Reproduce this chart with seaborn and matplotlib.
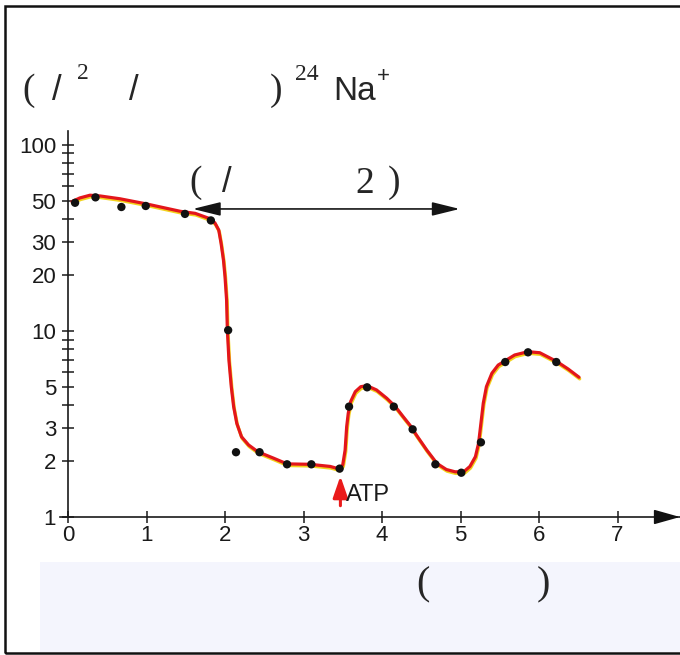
import matplotlib
matplotlib.use('Agg')
import matplotlib.pyplot as plt
import matplotlib.transforms as mtransforms
from matplotlib.patches import Rectangle, ArrowStyle
import seaborn as sns
import pandas as pd

# measured points (time in hours, 24Na+ efflux, log scale)
time_pts = [0.09, 0.35, 0.68, 0.99, 1.49, 1.82, 2.04, 2.14, 2.44, 2.79, 3.10,
            3.46, 3.58, 3.81, 4.15, 4.39, 4.68, 5.01, 5.26, 5.57, 5.86, 6.22]
flux_pts = [48.9, 52.3, 46.4, 47.0, 42.6, 39.3, 10.1, 2.23, 2.23, 1.92, 1.92,
            1.82, 3.92, 4.98, 3.92, 2.96, 1.92, 1.73, 2.52, 6.81, 7.68, 6.81]

# hand-drawn trend curve
curve_t = [0.05, 0.15, 0.28, 0.41, 0.66, 1.00, 1.43, 1.62, 1.79, 1.87, 1.92,
           1.95, 1.98, 2.00, 2.02, 2.03, 2.05, 2.08, 2.11, 2.15, 2.21, 2.30,
           2.42, 2.62, 2.79, 3.08, 3.34, 3.46, 3.50, 3.53, 3.55, 3.57, 3.60,
           3.66, 3.73, 3.81, 3.93, 4.06, 4.17, 4.27, 4.36, 4.44, 4.57, 4.70,
           4.82, 4.93, 5.04, 5.12, 5.19, 5.23, 5.26, 5.29, 5.33, 5.40, 5.48,
           5.57, 5.69, 5.86, 6.01, 6.23, 6.37, 6.51]
curve_flux = [49.6, 51.9, 53.7, 53.2, 51.4, 48.2, 44.0, 42.9, 40.4, 38.2, 34.9,
              29.6, 24.1, 19.6, 14.7, 10.1, 6.98, 5.02, 3.92, 3.19, 2.70, 2.44,
              2.24, 2.07, 1.93, 1.92, 1.87, 1.81, 1.91, 2.29, 3.06, 3.61, 4.17,
              4.72, 5.02, 5.08, 4.82, 4.35, 3.92, 3.46, 3.10, 2.75, 2.29, 1.94,
              1.80, 1.75, 1.75, 1.87, 2.11, 2.49, 3.19, 4.09, 5.02, 5.93, 6.56,
              6.92, 7.43, 7.74, 7.64, 6.84, 6.25, 5.64]

x_ticks = [0, 1, 2, 3, 4, 5, 6, 7]
y_major = [1, 2, 3, 5, 10, 20, 30, 50, 100]
y_minor = [4, 6, 7, 8, 9, 40, 60, 70, 80, 90]

atp_time = 3.47
span_start, span_end, span_level = 1.59, 4.99, 45.3

W, H = 680, 655


def px(x, y):
    return x / W, 1 - y / H


sns.set_theme(style='white')
plt.rcParams['font.family'] = ['Liberation Sans', 'DejaVu Sans']

fig = plt.figure(figsize=(6.8, 6.55), dpi=100)
fig.patch.set_facecolor('white')

# faint background wash at the bottom
fig.add_artist(Rectangle(px(40, 652), 640 / W, 90 / H, transform=fig.transFigure,
                         facecolor='#f4f5fd', edgecolor='none', zorder=0))
# frame
fig.add_artist(Rectangle(px(5, 653), 700 / W, 647 / H, transform=fig.transFigure,
                         fill=False, edgecolor='#111111', lw=1.8, zorder=1))

ax = fig.add_axes([60 / W, (H - 517) / H, 620 / W, (517 - 131) / H])
ax.patch.set_alpha(0)
ax.set_yscale('log')
ax.set_xlim(-0.102, 7.796)
ax.set_ylim(1, 118.9)

df_curve = pd.DataFrame({'t': curve_t, 'flux': curve_flux})
df_pts = pd.DataFrame({'t': time_pts, 'flux': flux_pts})

shadow = mtransforms.offset_copy(ax.transData, fig=fig, x=0.6, y=-1.6, units='dots')
ax.plot(curve_t, curve_flux, color='#f2d31c', lw=2.4, transform=shadow,
        solid_joinstyle='round', solid_capstyle='round', zorder=2)
sns.lineplot(data=df_curve, x='t', y='flux', ax=ax, color='#e3161b', lw=2.3,
             sort=False, estimator=None, zorder=3)
ax.lines[-1].set_solid_joinstyle('round')
sns.scatterplot(data=df_pts, x='t', y='flux', ax=ax, color='#111111', s=36,
                edgecolor='none', zorder=4)

# spines
for side in ['top', 'right']:
    ax.spines[side].set_visible(False)
ax.spines['left'].set_position(('data', 0))
for side in ['left', 'bottom']:
    ax.spines[side].set_color('#1a1a1a')
    ax.spines[side].set_linewidth(1.2)

ax.set_xticks(x_ticks)
ax.set_xticklabels([str(v) for v in x_ticks])
ax.set_yticks(y_major)
ax.set_yticklabels([str(v) for v in y_major])
ax.set_yticks(y_minor, minor=True)
ax.yaxis.set_minor_formatter(plt.NullFormatter())
ax.tick_params(axis='both', which='both', direction='inout', length=9, width=1.1,
               color='#1a1a1a', labelsize=16, labelcolor='#1a1a1a')
ax.tick_params(axis='x', pad=1.5)
ax.tick_params(axis='y', pad=4)
ax.tick_params(left=True, bottom=True, which='both')
ax.tick_params(axis='x', which='minor', bottom=False)
ax.set_xlabel('')
ax.set_ylabel('')

# x axis arrowhead
ax.annotate('', xy=(1.0, 0), xytext=(0.96, 0), xycoords='axes fraction',
            arrowprops=dict(arrowstyle=ArrowStyle('-|>', head_length=1.6, head_width=0.45),
                            mutation_scale=10, color='#111111', lw=1.2,
                            shrinkA=0, shrinkB=0), annotation_clip=False)

# double-headed span arrow
ax.annotate('', xy=(span_end, span_level), xytext=(span_start, span_level),
            arrowprops=dict(arrowstyle=ArrowStyle('<|-|>', head_length=1.7, head_width=0.42),
                            mutation_scale=10, color='#151515', lw=1.2,
                            shrinkA=0, shrinkB=0))

# ATP arrow
ax.annotate('', xy=(atp_time, 1.66), xytext=(atp_time, 1.15),
            arrowprops=dict(arrowstyle=ArrowStyle('-|>', head_length=1.3, head_width=0.45),
                            mutation_scale=10, color='#ea1a1a', lw=2.2,
                            shrinkA=0, shrinkB=0), annotation_clip=False)
ax.text(3.54, 1.31, 'ATP', fontsize=17, color='#1a1a1a', ha='left', va='center')

# header texts (the CJK glyphs of the original are missing)
serif = ['Liberation Serif', 'DejaVu Serif']
sans = ['Liberation Sans', 'DejaVu Sans']
fig.text(*px(22, 100), '(', family=serif, fontsize=27, va='baseline')
fig.text(*px(52, 100), '/', family=sans, fontsize=25, va='baseline')
fig.text(*px(77, 79), '2', family=serif, fontsize=17, va='baseline')
fig.text(*px(129, 100), '/', family=sans, fontsize=25, va='baseline')
fig.text(*px(270, 100), ')', family=serif, fontsize=27, va='baseline')
fig.text(*px(295, 80), '24', family=serif, fontsize=17, va='baseline')
fig.text(*px(333, 100), 'Na', family=sans, fontsize=24, va='baseline')
fig.text(*px(377, 82), '+', family=sans, fontsize=16, va='baseline')

fig.text(*px(189, 192), '(', family=serif, fontsize=27, va='baseline')
fig.text(*px(222, 192), '/', family=sans, fontsize=25, va='baseline')
fig.text(*px(355, 193), '2', family=serif, fontsize=27, va='baseline')
fig.text(*px(388, 192), ')', family=serif, fontsize=27, va='baseline')

fig.text(*px(416, 594), '(', family=serif, fontsize=29, va='baseline')
fig.text(*px(537, 594), ')', family=serif, fontsize=29, va='baseline')

fig.savefig('out.png', dpi=100)
